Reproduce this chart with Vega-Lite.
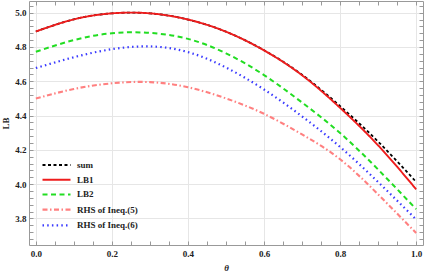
{
  "$schema": "https://vega.github.io/schema/vega-lite/v6.json",
  "width": 394,
  "height": 244,
  "autosize": {"type": "none"},
  "padding": {"left": 29, "top": 1, "right": 2, "bottom": 28},
  "background": "white",
  "config": {
    "view": {"stroke": null},
    "font": "Liberation Serif",
    "axis": {
      "labelFont": "Liberation Serif",
      "labelFontWeight": "bold",
      "labelFontSize": 9,
      "labelColor": "#222222",
      "titleFont": "Liberation Serif",
      "titleFontWeight": "bold",
      "titleFontSize": 9,
      "titleColor": "#222222",
      "domainColor": "#999999",
      "tickColor": "#999999",
      "gridColor": "#e6e6e6"
    },
    "legend": {
      "labelFont": "Liberation Serif",
      "labelFontWeight": "bold",
      "labelFontSize": 9,
      "labelColor": "#222222"
    }
  },
  "data": {
    "values": [
      {"theta": 0.0, "series": "sum", "value": 4.89},
      {"theta": 0.1, "series": "sum", "value": 4.961},
      {"theta": 0.2, "series": "sum", "value": 4.996},
      {"theta": 0.3, "series": "sum", "value": 4.996},
      {"theta": 0.4, "series": "sum", "value": 4.96},
      {"theta": 0.5, "series": "sum", "value": 4.889},
      {"theta": 0.6, "series": "sum", "value": 4.781},
      {"theta": 0.7, "series": "sum", "value": 4.638},
      {"theta": 0.8, "series": "sum", "value": 4.455},
      {"theta": 0.9, "series": "sum", "value": 4.248},
      {"theta": 1.0, "series": "sum", "value": 4.013},
      {"theta": 0.0, "series": "LB1", "value": 4.89},
      {"theta": 0.1, "series": "LB1", "value": 4.961},
      {"theta": 0.2, "series": "LB1", "value": 4.996},
      {"theta": 0.3, "series": "LB1", "value": 4.996},
      {"theta": 0.4, "series": "LB1", "value": 4.96},
      {"theta": 0.5, "series": "LB1", "value": 4.889},
      {"theta": 0.6, "series": "LB1", "value": 4.78},
      {"theta": 0.7, "series": "LB1", "value": 4.635},
      {"theta": 0.8, "series": "LB1", "value": 4.445},
      {"theta": 0.9, "series": "LB1", "value": 4.226},
      {"theta": 1.0, "series": "LB1", "value": 3.97},
      {"theta": 0.0, "series": "LB2", "value": 4.772},
      {"theta": 0.1, "series": "LB2", "value": 4.84},
      {"theta": 0.2, "series": "LB2", "value": 4.88},
      {"theta": 0.3, "series": "LB2", "value": 4.882},
      {"theta": 0.4, "series": "LB2", "value": 4.847},
      {"theta": 0.5, "series": "LB2", "value": 4.763},
      {"theta": 0.6, "series": "LB2", "value": 4.636},
      {"theta": 0.7, "series": "LB2", "value": 4.476},
      {"theta": 0.8, "series": "LB2", "value": 4.298},
      {"theta": 0.9, "series": "LB2", "value": 4.085},
      {"theta": 1.0, "series": "LB2", "value": 3.854},
      {"theta": 0.0, "series": "RHS of Ineq.(5)", "value": 4.499},
      {"theta": 0.1, "series": "RHS of Ineq.(5)", "value": 4.555},
      {"theta": 0.2, "series": "RHS of Ineq.(5)", "value": 4.588},
      {"theta": 0.3, "series": "RHS of Ineq.(5)", "value": 4.595},
      {"theta": 0.4, "series": "RHS of Ineq.(5)", "value": 4.565},
      {"theta": 0.5, "series": "RHS of Ineq.(5)", "value": 4.5},
      {"theta": 0.6, "series": "RHS of Ineq.(5)", "value": 4.41},
      {"theta": 0.7, "series": "RHS of Ineq.(5)", "value": 4.29},
      {"theta": 0.8, "series": "RHS of Ineq.(5)", "value": 4.145},
      {"theta": 0.9, "series": "RHS of Ineq.(5)", "value": 3.94},
      {"theta": 1.0, "series": "RHS of Ineq.(5)", "value": 3.715},
      {"theta": 0.0, "series": "RHS of Ineq.(6)", "value": 4.677},
      {"theta": 0.1, "series": "RHS of Ineq.(6)", "value": 4.74},
      {"theta": 0.2, "series": "RHS of Ineq.(6)", "value": 4.787},
      {"theta": 0.3, "series": "RHS of Ineq.(6)", "value": 4.803},
      {"theta": 0.4, "series": "RHS of Ineq.(6)", "value": 4.77},
      {"theta": 0.5, "series": "RHS of Ineq.(6)", "value": 4.68},
      {"theta": 0.6, "series": "RHS of Ineq.(6)", "value": 4.552},
      {"theta": 0.7, "series": "RHS of Ineq.(6)", "value": 4.395},
      {"theta": 0.8, "series": "RHS of Ineq.(6)", "value": 4.217},
      {"theta": 0.9, "series": "RHS of Ineq.(6)", "value": 4.012},
      {"theta": 1.0, "series": "RHS of Ineq.(6)", "value": 3.794}
    ]
  },
  "encoding": {
    "x": {
      "field": "theta", "type": "quantitative",
      "scale": {"domain": [-0.018, 1.018], "nice": false, "zero": false}
    },
    "y": {
      "field": "value", "type": "quantitative",
      "scale": {"domain": [3.645, 5.068], "nice": false, "zero": false}
    },
    "color": {
      "field": "series", "type": "nominal",
      "scale": {
        "domain": ["sum", "LB1", "LB2", "RHS of Ineq.(5)", "RHS of Ineq.(6)"],
        "range": ["#000000", "#ee1c1c", "#22dd22", "#ff8080", "#3a3aff"]
      },
      "legend": {
        "title": null, "orient": "none", "legendX": 19, "legendY": 156,
        "symbolType": "M-2,0H2", "symbolSize": 196, "symbolStrokeWidth": 2,
        "labelOffset": 12, "rowPadding": 1.7, "padding": 0
      }
    },
    "strokeDash": {
      "field": "series", "type": "nominal",
      "scale": {
        "domain": ["sum", "LB1", "LB2", "RHS of Ineq.(5)", "RHS of Ineq.(6)"],
        "range": [[3, 2.5], [1, 0], [5, 3.5], [5, 2.5, 1.5, 2.5], [1.5, 3.2]]
      }
    },
    "strokeWidth": {
      "field": "series", "type": "nominal",
      "scale": {
        "domain": ["sum", "LB1", "LB2", "RHS of Ineq.(5)", "RHS of Ineq.(6)"],
        "range": [1.8, 2.2, 2, 1.5, 1.6]
      }
    }
  },
  "layer": [
    {
      "transform": [{"filter": "datum.series === 'sum'"}],
      "mark": {"type": "line", "interpolate": "natural"},
      "encoding": {
        "x": {
          "field": "theta", "type": "quantitative",
          "scale": {"domain": [-0.018, 1.018], "nice": false, "zero": false},
          "axis": {
            "orient": "bottom", "title": "θ", "titleFontStyle": "italic", "titlePadding": 5,
            "values": [0, 0.05, 0.1, 0.15, 0.2, 0.25, 0.3, 0.35, 0.4, 0.45, 0.5, 0.55, 0.6, 0.65, 0.7, 0.75, 0.8, 0.85, 0.9, 0.95, 1.0],
            "labelExpr": "abs(datum.value*5-round(datum.value*5))<0.001 ? format(datum.value,'.1f') : ''",
            "tickSize": -4,
            "grid": true,
            "gridOpacity": {"condition": {"test": "abs(datum.value*5-round(datum.value*5))<0.001", "value": 1}, "value": 0},
            "labelAlign": "center", "labelBaseline": "top",
            "labelPadding": 8
          }
        },
        "y": {
          "field": "value", "type": "quantitative",
          "scale": {"domain": [3.645, 5.068], "nice": false, "zero": false},
          "axis": {
            "orient": "left", "title": "LB", "titlePadding": 4,
            "values": [3.68, 3.72, 3.76, 3.8, 3.84, 3.88, 3.92, 3.96, 4.0, 4.04, 4.08, 4.12, 4.16, 4.2, 4.24, 4.28, 4.32, 4.36, 4.4, 4.44, 4.48, 4.52, 4.56, 4.6, 4.64, 4.68, 4.72, 4.76, 4.8, 4.84, 4.88, 4.92, 4.96, 5.0, 5.04],
            "labelExpr": "abs(datum.value*5-round(datum.value*5))<0.001 ? format(datum.value,'.1f') : ''",
            "tickSize": -4,
            "grid": true,
            "gridOpacity": {"condition": {"test": "abs(datum.value*5-round(datum.value*5))<0.001", "value": 1}, "value": 0},
            "labelAlign": "right", "labelBaseline": "middle",
            "labelPadding": 7
          }
        }
      }
    },
    {
      "transform": [{"filter": "datum.series !== 'sum'"}],
      "mark": {"type": "line", "interpolate": "natural"},
      "encoding": {
        "x": {
          "field": "theta", "type": "quantitative",
          "scale": {"domain": [-0.018, 1.018], "nice": false, "zero": false},
          "axis": {
            "orient": "top", "title": null, "labels": false, "grid": false,
            "values": [0, 0.05, 0.1, 0.15, 0.2, 0.25, 0.3, 0.35, 0.4, 0.45, 0.5, 0.55, 0.6, 0.65, 0.7, 0.75, 0.8, 0.85, 0.9, 0.95, 1.0],
            "tickSize": -4
          }
        },
        "y": {
          "field": "value", "type": "quantitative",
          "scale": {"domain": [3.645, 5.068], "nice": false, "zero": false},
          "axis": {
            "orient": "right", "title": null, "labels": false, "grid": false,
            "values": [3.68, 3.72, 3.76, 3.8, 3.84, 3.88, 3.92, 3.96, 4.0, 4.04, 4.08, 4.12, 4.16, 4.2, 4.24, 4.28, 4.32, 4.36, 4.4, 4.44, 4.48, 4.52, 4.56, 4.6, 4.64, 4.68, 4.72, 4.76, 4.8, 4.84, 4.88, 4.92, 4.96, 5.0, 5.04],
            "tickSize": -4
          }
        }
      }
    }
  ],
  "resolve": {"axis": {"x": "independent", "y": "independent"}}
}
